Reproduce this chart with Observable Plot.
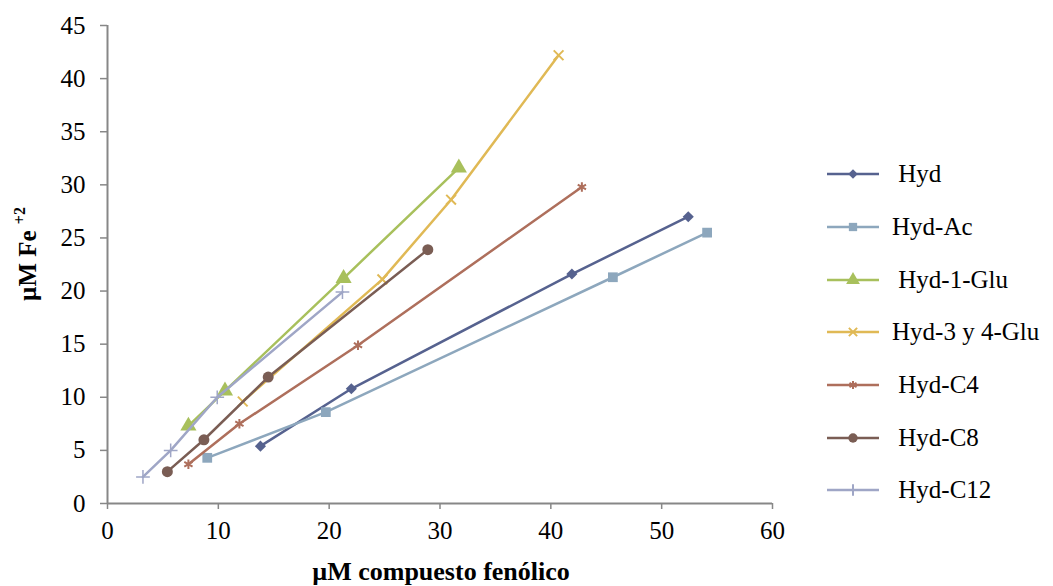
<!DOCTYPE html>
<html><head><meta charset="utf-8">
<script src="https://cdn.jsdelivr.net/npm/d3@7"></script>
<script src="https://cdn.jsdelivr.net/npm/@observablehq/plot@0.6"></script>
<style>
body{margin:0;background:#fff;}
#wrap{position:relative;width:1053px;height:586px;font-family:'Liberation Serif';}
#wrap svg text{font-family:'Liberation Serif';}
#legend{position:absolute;left:826px;top:148px;}
.li{height:52.7px;display:flex;align-items:center;font-size:25px;color:#000;white-space:pre;font-family:'Liberation Serif';}
.li svg{margin-right:12px;}
</style></head><body><div id="wrap"><div id="legend"></div></div>
<script>
const seriesNames = ["Hyd","Hyd-Ac","Hyd-1-Glu","Hyd-3 y 4-Glu","Hyd-C4","Hyd-C8","Hyd-C12"];
const legendLabels = [" Hyd","Hyd-Ac"," Hyd-1-Glu","Hyd-3 y 4-Glu"," Hyd-C4"," Hyd-C8"," Hyd-C12"];
const colors = ["#56628F","#8DA7BD","#A8C05C","#E0B955","#AE6F5C","#7A5D54","#9FA6C6"];
const symbols = ["diamond2","square","triangle","times","asterisk","circle","plus"];

const hydX   = [13.8, 22.0, 41.9, 52.4];
const hydY   = [5.4, 10.8, 21.6, 27.0];
const acX    = [9.0, 19.7, 45.6, 54.1];
const acY    = [4.3, 8.6, 21.3, 25.5];
const glu1X  = [7.3, 10.6, 21.3, 31.7];
const glu1Y  = [7.3, 10.6, 21.2, 31.6];
const glu34X = [12.2, 24.8, 31.0, 40.7];
const glu34Y = [9.6, 21.1, 28.6, 42.2];
const c4X    = [7.3, 11.9, 22.6, 42.8];
const c4Y    = [3.7, 7.5, 14.9, 29.8];
const c8X    = [5.4, 8.7, 14.5, 28.9];
const c8Y    = [3.0, 6.0, 11.9, 23.9];
const c12X   = [3.2, 5.7, 9.9, 21.2];
const c12Y   = [2.5, 5.0, 10.0, 19.9];

const xTicks = [0,10,20,30,40,50,60];
const yTicks = [0,5,10,15,20,25,30,35,40,45];

const xs = [hydX, acX, glu1X, glu34X, c4X, c8X, c12X];
const ys = [hydY, acY, glu1Y, glu34Y, c4Y, c8Y, c12Y];
const radii = {diamond2: 5, square: 5.5, triangle: 6, times: 4.5, asterisk: 4.5, circle: 5.5, plus: 4.5};
const filledSet = ["diamond2","square","triangle","circle"];
const FONT = "Liberation Serif";

const marks = [];
const axisColor = "#878787";
marks.push(Plot.axisX({ticks: xTicks, tickSize: 6, stroke: axisColor, strokeWidth: 1.5, strokeOpacity: 1, tickPadding: 12, fontSize: 25, fontFamily: FONT, label: null}));
marks.push(Plot.axisY({ticks: yTicks, tickSize: 7, stroke: axisColor, strokeWidth: 1.5, strokeOpacity: 1, tickPadding: 15, fontSize: 25, fontFamily: FONT, label: null}));
marks.push(Plot.ruleY([0], {stroke: axisColor, strokeWidth: 2}));
marks.push(Plot.ruleX([0], {stroke: axisColor, strokeWidth: 2}));

seriesNames.forEach((name, i) => {
  const data = xs[i].map((x, j) => ({x, y: ys[i][j]}));
  marks.push(Plot.line(data, {x: "x", y: "y", stroke: colors[i], strokeWidth: 2.5}));
  const sym = symbols[i];
  if (filledSet.includes(sym)) {
    marks.push(Plot.dot(data, {x: "x", y: "y", symbol: sym, fill: colors[i], stroke: "none", r: radii[sym]}));
  } else {
    marks.push(Plot.dot(data, {x: "x", y: "y", symbol: sym, stroke: colors[i], fill: "none", strokeWidth: sym === "plus" ? 1.5 : 2, r: radii[sym]}));
  }
});

const chart = Plot.plot({
  width: 1053, height: 586,
  marginLeft: 107, marginRight: 281, marginTop: 25, marginBottom: 83,
  x: {domain: [0, 60]},
  y: {domain: [0, 45]},
  style: {fontFamily: FONT, fontSize: "25px", color: "#000", background: "#fff"},
  marks
});
document.getElementById("wrap").appendChild(chart);

const svg = d3.select(chart);
svg.append("text")
  .attr("x", 441).attr("y", 580)
  .attr("text-anchor", "middle")
  .attr("font-family", FONT)
  .attr("font-weight", "bold").attr("font-size", 26)
  .attr("fill", "#000")
  .text("µM compuesto fenólico");
const yl = svg.append("text")
  .attr("transform", "translate(36,254) rotate(-90)")
  .attr("text-anchor", "middle")
  .attr("font-family", FONT)
  .attr("font-weight", "bold").attr("font-size", 25)
  .attr("fill", "#000");
yl.append("tspan").text("µM Fe ");
yl.append("tspan").attr("font-size", 16).attr("dy", -11).text("+2");

// legend
const leg = d3.select("#legend");
const symMap = {diamond2: d3.symbolDiamond2, square: d3.symbolSquare, triangle: d3.symbolTriangle, times: d3.symbolTimes, asterisk: d3.symbolAsterisk, circle: d3.symbolCircle, plus: d3.symbolPlus};
seriesNames.forEach((name, i) => {
  const row = leg.append("div").attr("class", "li");
  const s = row.append("svg").attr("width", 54).attr("height", 16);
  s.append("line").attr("x1", 1).attr("x2", 53).attr("y1", 8).attr("y2", 8).attr("stroke", colors[i]).attr("stroke-width", 2.5);
  const sym = symbols[i];
  const r = radii[sym] * 0.85;
  const p = s.append("path").attr("transform", "translate(27,8)").attr("d", d3.symbol(symMap[sym], Math.PI * r * r)());
  if (filledSet.includes(sym)) p.attr("fill", colors[i]); else p.attr("fill", "none").attr("stroke", colors[i]).attr("stroke-width", 2);
  row.append("span").text(legendLabels[i]);
});
</script></body></html>
